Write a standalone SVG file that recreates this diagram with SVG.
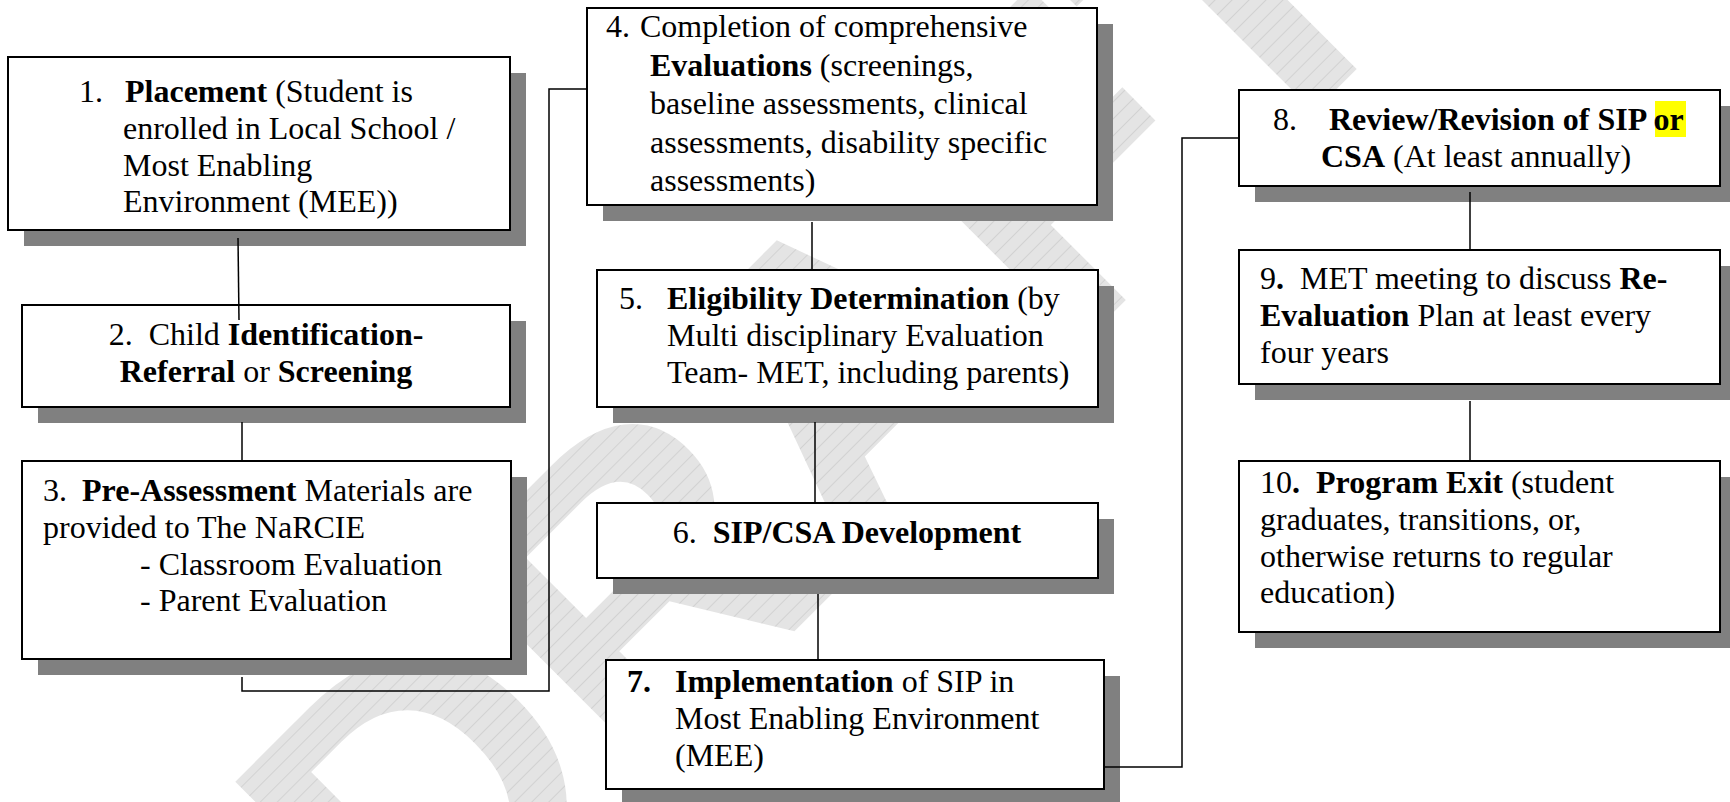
<svg xmlns="http://www.w3.org/2000/svg" width="1730" height="802" viewBox="0 0 1730 802">
  <style>
    .box { fill: #ffffff; stroke: #000000; stroke-width: 2; }
    .shadow { fill: #808080; }
    .conn { fill: none; stroke: #000000; stroke-width: 1.5; }
    text { font-family: "Liberation Serif", "Times New Roman", serif; font-size: 32px; fill: #000000; }
    .b { font-weight: bold; }
    .wm { font-family: "Liberation Sans", Arial, sans-serif; font-weight: bold; font-size: 420px; fill: url(#hatch); }
  </style>
  <defs>
    <pattern id="hatch" patternUnits="userSpaceOnUse" width="12" height="12">
      <rect width="12" height="12" fill="#e4e4e4"/>
      <line x1="0" y1="0.5" x2="12" y2="0.5" stroke="#d2d2d2" stroke-width="1"/>
    </pattern>
  </defs>

  <rect width="1730" height="802" fill="#ffffff"/>

  <!-- background watermark -->
  <g id="watermark">
    <text class="wm" x="820" y="400" text-anchor="middle" dominant-baseline="central" transform="rotate(-45 820 400)">DRAFT</text>
  </g>

  <!-- step 1 -->
  <g id="node1">
    <rect class="shadow" x="24" y="73" width="502" height="173"/>
    <rect class="box" x="8" y="57" width="502" height="173"/>
    <text y="102"><tspan x="79">1.</tspan><tspan x="125" class="b">Placement</tspan> (Student is</text>
    <text x="123" y="139">enrolled in Local School /</text>
    <text x="123" y="176">Most Enabling</text>
    <text x="123" y="212">Environment (MEE))</text>
  </g>

  <!-- step 2 -->
  <g id="node2">
    <rect class="shadow" x="38" y="321" width="488" height="102"/>
    <rect class="box" x="22" y="305" width="488" height="102"/>
    <text x="266" y="345" text-anchor="middle">2.&#160; Child <tspan class="b">Identification-</tspan></text>
    <text x="266" y="382" text-anchor="middle"><tspan class="b">Referral</tspan> or <tspan class="b">Screening</tspan></text>
  </g>

  <!-- step 3 -->
  <g id="node3">
    <rect class="shadow" x="38" y="477" width="489" height="198"/>
    <rect class="box" x="22" y="461" width="489" height="198"/>
    <text y="501"><tspan x="43">3.</tspan><tspan x="82" class="b">Pre-Assessment</tspan> Materials are</text>
    <text x="43" y="538">provided to The NaRCIE</text>
    <text x="140" y="575">- Classroom Evaluation</text>
    <text x="140" y="611">- Parent Evaluation</text>
  </g>

  <!-- step 4 -->
  <g id="node4">
    <rect class="shadow" x="603" y="24" width="510" height="197"/>
    <rect class="box" x="587" y="8" width="510" height="197"/>
    <text y="37"><tspan x="606">4.</tspan><tspan x="640">Completion of comprehensive</tspan></text>
    <text x="650" y="76"><tspan class="b">Evaluations</tspan> (screenings,</text>
    <text x="650" y="114">baseline assessments, clinical</text>
    <text x="650" y="153">assessments, disability specific</text>
    <text x="650" y="191">assessments)</text>
  </g>

  <!-- step 5 -->
  <g id="node5">
    <rect class="shadow" x="613" y="286" width="501" height="137"/>
    <rect class="box" x="597" y="270" width="501" height="137"/>
    <text y="309"><tspan x="619">5.</tspan><tspan x="667" class="b">Eligibility Determination</tspan> (by</text>
    <text x="667" y="346">Multi disciplinary Evaluation</text>
    <text x="667" y="383">Team- MET, including parents)</text>
  </g>

  <!-- step 6 -->
  <g id="node6">
    <rect class="shadow" x="613" y="519" width="501" height="75"/>
    <rect class="box" x="597" y="503" width="501" height="75"/>
    <text x="847" y="543" text-anchor="middle">6.&#160; <tspan class="b">SIP/CSA Development</tspan></text>
  </g>

  <!-- step 7 -->
  <g id="node7">
    <rect class="shadow" x="622" y="676" width="498" height="129"/>
    <rect class="box" x="606" y="660" width="498" height="129"/>
    <text y="692"><tspan x="627" class="b">7.</tspan><tspan x="675" class="b">Implementation</tspan> of SIP in</text>
    <text x="675" y="729">Most Enabling Environment</text>
    <text x="675" y="766">(MEE)</text>
  </g>

  <!-- step 8 -->
  <g id="node8">
    <rect class="shadow" x="1255" y="106" width="481" height="96"/>
    <rect class="box" x="1239" y="90" width="481" height="96"/>
    <rect x="1655" y="101" width="31" height="36" fill="#ffff00"/>
    <text y="130"><tspan x="1273">8.</tspan><tspan x="1329" class="b">Review/Revision of SIP or</tspan></text>
    <text x="1321" y="167"><tspan class="b">CSA</tspan> (At least annually)</text>
  </g>

  <!-- step 9 -->
  <g id="node9">
    <rect class="shadow" x="1255" y="266" width="481" height="134"/>
    <rect class="box" x="1239" y="250" width="481" height="134"/>
    <text x="1260" y="289">9<tspan class="b">.</tspan>&#160; MET meeting to discuss <tspan class="b">Re-</tspan></text>
    <text x="1260" y="326"><tspan class="b">Evaluation</tspan> Plan at least every</text>
    <text x="1260" y="363">four years</text>
  </g>

  <!-- step 10 -->
  <g id="node10">
    <rect class="shadow" x="1255" y="477" width="481" height="171"/>
    <rect class="box" x="1239" y="461" width="481" height="171"/>
    <text x="1260" y="493">10<tspan class="b">.</tspan>&#160; <tspan class="b">Program Exit</tspan> (student</text>
    <text x="1260" y="530">graduates, transitions, or,</text>
    <text x="1260" y="567">otherwise returns to regular</text>
    <text x="1260" y="603">education)</text>
  </g>

  <!-- connectors -->
  <g id="connectors">
    <path class="conn" d="M238 238 L239 320"/>
    <path class="conn" d="M242 422 V461"/>
    <path class="conn" d="M242 677 V691 H549 V89 H587"/>
    <path class="conn" d="M812 222 V270"/>
    <path class="conn" d="M815 422 V503"/>
    <path class="conn" d="M818 594 V660"/>
    <path class="conn" d="M1104 767 H1182 V138 H1239"/>
    <path class="conn" d="M1470 192 V250"/>
    <path class="conn" d="M1470 401 V461"/>
  </g>
</svg>
